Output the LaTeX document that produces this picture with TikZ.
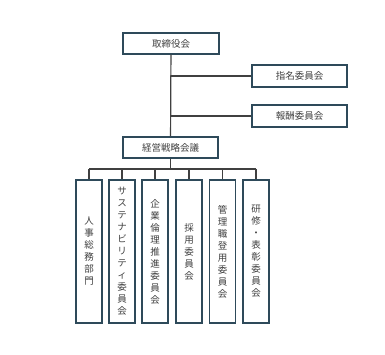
\documentclass[tikz,border=0pt]{standalone}
\usepackage{fontspec}
\newfontfamily\jp{Noto Sans CJK JP}
\usetikzlibrary{positioning}
\definecolor{boxline}{HTML}{2E4A5A}
\definecolor{wire}{HTML}{404040}
\definecolor{txt}{HTML}{404040}
\begin{document}
\begin{tikzpicture}[
        x=1pt, y=-1pt,
        hbox/.style={draw=boxline, line width=1.1pt, fill=white, text=txt,
            minimum height=21pt, inner sep=0pt, font=\jp\fontsize{9.5}{11}\selectfont},
        vbox/.style={draw=boxline, line width=1.1pt, fill=white, text=txt,
            minimum width=26pt, minimum height=143pt, inner sep=0pt, align=center,
            font=\jp\fontsize{9.5}{12}\selectfont},
        link/.style={draw=wire, line width=1.2pt},
    ]
        \useasboundingbox (0,0) rectangle (385,355);

        % Board and committees
        \node[hbox, minimum width=96pt] (board) at (171, 43.5) {取締役会};
        \node[hbox, minimum width=95pt, minimum height=22pt] (nomination) at (299.5, 76) {指名委員会};
        \node[hbox, minimum width=95pt, minimum height=22pt] (remuneration) at (299.5, 116) {報酬委員会};
        \node[hbox, minimum width=95pt] (strategy) at (170.5, 147.5) {経営戦略会議};

        % Columns under the strategy meeting
        \node[vbox] (c1) at (89, 251.5) {人\\事\\総\\務\\部\\門};
        \node[vbox] (c2) at (122, 251.5) {サ\\ス\\テ\\ナ\\ビ\\リ\\テ\\ィ\\委\\員\\会};
        \node[vbox] (c3) at (155, 251.5) {企\\業\\倫\\理\\推\\進\\委\\員\\会};
        \node[vbox] (c4) at (189, 251.5) {採\\用\\委\\員\\会};
        \node[vbox] (c5) at (222.5, 251.5) {管\\理\\職\\登\\用\\委\\員\\会};
        \node[vbox] (c6) at (256, 251.5) {研\\修\\・\\表\\彰\\委\\員\\会};

        % Connectors
        \coordinate (bus) at (0, 169);
        \draw[link] (board) -- (strategy);
        \draw[link] (board.south |- nomination.west) -- (nomination.west);
        \draw[link] (board.south |- remuneration.west) -- (remuneration.west);
        \draw[link] (strategy.south) -- (strategy.south |- bus);
        \draw[link] (c1.north |- bus) -- (c6.north |- bus);
        \foreach \i in {1,...,6} {
            \draw[link] (c\i.north |- bus) -- (c\i.north);
        }
    \end{tikzpicture}
\end{document}
